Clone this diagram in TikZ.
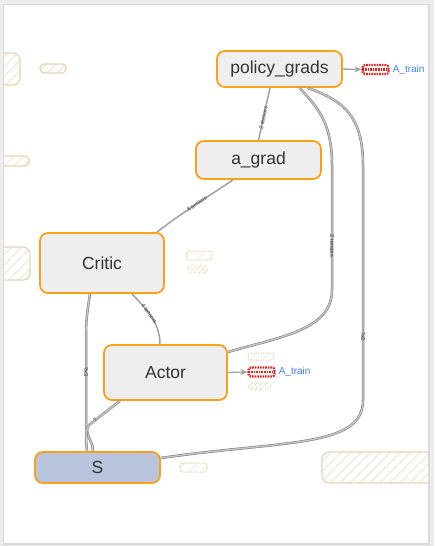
\documentclass[tikz,border=0pt]{standalone}
\usepackage{fontspec}
\setmainfont{Liberation Sans}
\usetikzlibrary{patterns.meta,arrows.meta}
\definecolor{nodeorange}{HTML}{F9A11B}
\definecolor{nodefill}{HTML}{EEEEEE}
\definecolor{sfill}{HTML}{B9C4DD}
\definecolor{edgegray}{HTML}{A2A2A2}
\definecolor{tanline}{HTML}{E2D6B5}
\definecolor{tanhatch}{HTML}{EAE0C6}
\definecolor{trainblue}{HTML}{3F7FEF}
\definecolor{trainred}{HTML}{F01E1E}
\definecolor{txt}{HTML}{333333}
\begin{document}
\begin{tikzpicture}[x=1pt,y=-1pt,
  opnode/.style={draw=nodeorange, line width=1.8pt, fill=nodefill, rounded corners=8pt,
    inner sep=0pt, text=txt, font=\fontsize{17.5}{20}\selectfont},
  edge/.style={draw=edgegray, line width=1.5pt},
  bigedge/.style={draw=edgegray!80!black, line width=0.6pt, double=edgegray!60, double distance=1.3pt},
  elabel/.style={font=\fontsize{5.5}{6}\selectfont, text=txt, sloped, inner sep=0.5pt},
  hatchbox/.style={draw=tanline, line width=1.2pt, rounded corners=4pt,
    pattern={Lines[angle=45,distance=7pt,line width=0.7pt]}, pattern color=tanhatch},
  dashpill/.style={draw=tanline, line width=1pt, dash pattern=on 1.5pt off 1pt, rounded corners=3pt,
    pattern={Lines[angle=45,distance=9pt,line width=0.7pt]}, pattern color=tanhatch},
  softpill/.style={draw=tanhatch, line width=0.8pt, dash pattern=on 1pt off 1pt, rounded corners=4pt,
    pattern={Lines[angle=45,distance=3.5pt,line width=0.8pt]}, pattern color=tanline},
  trainbox/.style={draw=trainred, line width=2.2pt, dash pattern=on 1.6pt off 1pt, rounded corners=2.5pt,
    minimum width=26pt, minimum height=9pt, inner sep=0pt},
  trainmid/.style={trainred, line width=2.4pt, dash pattern=on 1.6pt off 1pt},
  trainlabel/.style={text=trainblue, font=\fontsize{10}{12}\selectfont, inner sep=0pt, anchor=west},
  arr/.style={edge, line width=1.3pt, -{Stealth[length=7pt,width=6pt]}}
]
\useasboundingbox (0,0) rectangle (434,546);
% frame
\fill[black!7] (0,0) rectangle (434,546);
\fill[black!15] (3,4) rectangle (429.5,544.5);
\fill[white] (4,5) rectangle (428,543);

% faint hatched placeholders
\begin{scope}
\clip (4,5) rectangle (428,543);
\path[hatchbox, rounded corners=7pt] (-20,53) rectangle (20,85);
\path[hatchbox] (40,64) rectangle (66,73);
\path[hatchbox] (-5,156) rectangle (29,166);
\path[hatchbox, rounded corners=7pt] (-20,247) rectangle (30,280);
\path[hatchbox, rounded corners=7pt] (322,452) rectangle (450,483);
\path[dashpill] (186,251) rectangle (212,260);
\path[softpill] (187,265) rectangle (208,273);
\path[dashpill] (248,353) rectangle (274,360);
\path[softpill] (248,383) rectangle (271,390);
\path[dashpill] (180,463) rectangle (207,472);
\end{scope}

% op nodes
\node[opnode, minimum width=125pt, minimum height=36pt] (pg) at (279.5,69) {policy\_grads};
\node[opnode, minimum width=125pt, minimum height=38pt] (ag) at (258.5,160) {a\_grad};
\node[opnode, minimum width=124pt, minimum height=60pt] (cr) at (102,263) {Critic};
\node[opnode, minimum width=123pt, minimum height=55pt] (ac) at (165.5,372.5) {Actor};
\node[opnode, fill=sfill, minimum width=125pt, minimum height=31pt] (S) at (97.5,467.5) {S};

% train nodes
\node[trainbox] (t1) at (375.5,69.5) {};
\draw[trainmid] ([xshift=1pt]t1.west) -- ([xshift=-1pt]t1.east);
\node[trainlabel] (t1l) at ([xshift=3pt]t1.east) {A\_train};
\node[trainbox] (t2) at (261.5,372) {};
\draw[trainmid] ([xshift=1pt]t2.west) -- ([xshift=-1pt]t2.east);
\node[trainlabel] (t2l) at ([xshift=3pt]t2.east) {A\_train};

% edges
\draw[arr] (pg.east) -- (t1.west);
\draw[arr] (ac.east) -- (t2.west);

\draw[edge] ([xshift=-9.5pt]pg.south) -- node[elabel, pos=0.57]{2 tensors} (ag.north);
\draw[edge] ([xshift=-25.5pt]ag.south) .. controls (215,192) and (180,214) ..
  node[elabel, pos=0.5]{8 tensors} ([xshift=55pt]cr.north);
\draw[edge] ([xshift=30pt]cr.south) .. controls (145,308) and (160,322) ..
  node[elabel, pos=0.45]{4 tensors} ([xshift=-5.5pt]ac.north);

\draw[bigedge] ([xshift=20pt]pg.south) .. controls (315,105) and (332,120) .. (332,165)
  -- node[elabel, pos=0.65]{2 tensors} (332,290)
  .. controls (332,330) and (280,337) .. ([yshift=20.5pt]ac.east);
\draw[bigedge] ([xshift=28pt]pg.south) .. controls (342,100) and (363,115) .. (363,165)
  -- node[elabel, pos=0.73]{?x3} (363,400)
  .. controls (363,448) and (285,440) .. ([yshift=9.5pt]S.east);
\draw[bigedge] ([xshift=-12pt]cr.south) .. controls (86,320) .. (86,350)
  -- node[elabel, pos=0.31]{?x3} (86,420)
  .. controls (86,440) and (93,440) .. ([xshift=-4.5pt]S.north);
\draw[bigedge] ([xshift=-45.5pt]ac.south) -- node[elabel, pos=0.8]{?} (89,425)
  .. controls (85,432) and (86,442) .. ([xshift=-10.5pt]S.north);
\end{tikzpicture}
\end{document}
